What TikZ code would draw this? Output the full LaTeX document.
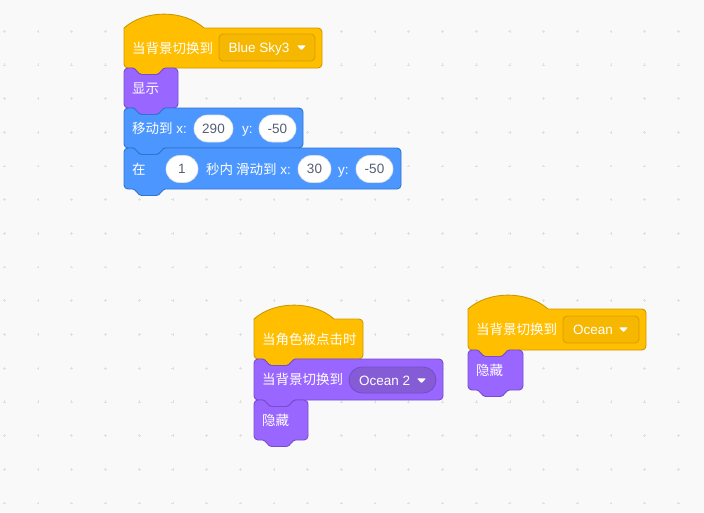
\documentclass[tikz,border=0pt]{standalone}
\usepackage{fontspec}
\setmainfont{Liberation Sans}
\newfontfamily\cjk{Noto Sans CJK SC}
\definecolor{bgc}{HTML}{F9F9F9}
\definecolor{gridc}{HTML}{E0E0E0}
\definecolor{yelF}{HTML}{FFBF00}
\definecolor{yelD}{HTML}{CC9900}
\definecolor{yelDD}{HTML}{F5B700}
\definecolor{yelDB}{HTML}{D9A000}
\definecolor{purF}{HTML}{9966FF}
\definecolor{purD}{HTML}{774DCB}
\definecolor{purDD}{HTML}{855CD6}
\definecolor{bluF}{HTML}{4C97FF}
\definecolor{bluD}{HTML}{3373CC}
\definecolor{numT}{HTML}{575E75}
\newcommand\sblk[5]{%
 \path[#1] (#2,{#3+#5/2}) [rounded corners=4pt] -- (#2,#3) [rounded corners=1.5pt] -- ({#2+10},#3) -- ({#2+16},{#3+6.5}) -- ({#2+34},{#3+6.5}) -- ({#2+40},#3) [rounded corners=4pt] -- ({#2+#4},#3) -- ({#2+#4},{#3+#5}) [rounded corners=1.5pt] -- ({#2+40},{#3+#5}) -- ({#2+34},{#3+#5+6.5}) -- ({#2+16},{#3+#5+6.5}) -- ({#2+10},{#3+#5}) [rounded corners=4pt] -- (#2,{#3+#5}) -- cycle;}
\newcommand\hblk[5]{%
 \path[#1] (#2,{#3+#5/2}) -- (#2,#3) .. controls ({#2+20.8},{#3-18.5}) and ({#2+59.2},{#3-18.5}) .. ({#2+80},#3) [rounded corners=4pt] -- ({#2+#4},#3) -- ({#2+#4},{#3+#5}) [rounded corners=1.5pt] -- ({#2+40},{#3+#5}) -- ({#2+34},{#3+#5+6.5}) -- ({#2+16},{#3+#5+6.5}) -- ({#2+10},{#3+#5}) [rounded corners=4pt] -- (#2,{#3+#5}) -- cycle;}
\newcommand\ddtri[2]{%
 \fill[white, rounded corners=0.8pt] ({#1-9},{#2-2.2}) -- (#1,{#2-2.2}) -- ({#1-4.5},{#2+2.8}) -- cycle;}
\begin{document}
\begin{tikzpicture}[x=1pt,y=-1pt,
  every node/.style={font=\fontsize{13.5pt}{16pt}\selectfont},
  hatY/.style={fill=yelF, draw=yelD, line width=0.9pt},
  purB/.style={fill=purF, draw=purD, line width=0.9pt},
  bluB/.style={fill=bluF, draw=bluD, line width=0.9pt},
  lbl/.style={anchor=base west, inner sep=0pt, text=white},
  num/.style={fill=white, draw=black!12, line width=0.6pt, rounded corners=13.5pt, minimum height=27pt, inner sep=0pt, text=numT},
  ddY/.style={fill=yelDD, draw=yelDB, line width=0.9pt, rounded corners=4pt},
  ddP/.style={fill=purDD, draw=purD, line width=0.9pt, rounded corners=13pt}]
\useasboundingbox (0,0) rectangle (704,512);
\fill[bgc] (0,0) rectangle (704,512);
\foreach \i in {0,...,20}{\foreach \j in {0,...,15}{
  \draw[gridc, line width=0.55pt] ({4.3+33.7*\i-1.4},{-2.6+33.7*\j}) -- ({4.3+33.7*\i+1.4},{-2.6+33.7*\j})
    ({4.3+33.7*\i},{-2.6+33.7*\j-1.4}) -- ({4.3+33.7*\i},{-2.6+33.7*\j+1.4});}}
% stack 1
\hblk{hatY}{124}{28}{198}{40}
\sblk{purB}{124}{68}{54}{40}
\sblk{bluB}{124}{108}{179}{40}
\sblk{bluB}{124}{148}{277}{41}
\node[lbl] (a1) at (132,53) {\cjk 当背景切换到};
\path[ddY] (219,34) rectangle (315,61);
\node[lbl] (a2) at (228.5,52.5) {Blue Sky3};
\ddtri{306}{47.5}
\node[lbl] (a3) at (132,93) {\cjk 显示};
\node[lbl] (a4) at (132,133.5) {{\cjk 移动到} x:};
\node[num, minimum width=39pt] (n1) at (213.5,128.5) {290};
\node[lbl] (a5) at (242,133.5) {y:};
\node[num, minimum width=37pt] (n2) at (277.5,128.5) {-50};
\node[lbl] (a6) at (132,174) {\cjk 在};
\node[num, minimum width=32pt] (n3) at (182,169) {1};
\node[lbl] (a7) at (206,174) {{\cjk 秒内 滑动到} x:};
\node[num, minimum width=33pt] (n4) at (314.5,169) {30};
\node[lbl] (a8) at (338,174) {y:};
\node[num, minimum width=37pt] (n5) at (374.5,169) {-50};
% stack 2
\hblk{hatY}{254}{319}{109}{40}
\sblk{purB}{254}{359}{189}{41}
\sblk{purB}{254}{400}{54}{40}
\node[lbl] (b1) at (262,344) {\cjk 当角色被点击时};
\node[lbl] (b2) at (262,384.5) {\cjk 当背景切换到};
\path[ddP] (349,367) rectangle (436,393);
\node[lbl] (b3) at (359,385) {Ocean 2};
\ddtri{426}{380.5}
\node[lbl] (b4) at (262,425) {\cjk 隐藏};
% stack 3
\hblk{hatY}{468}{309}{178}{41}
\sblk{purB}{468}{350}{55}{40}
\node[lbl] (c1) at (476,334.5) {\cjk 当背景切换到};
\path[ddY] (563,316) rectangle (639,343);
\node[lbl] (c2) at (573,334.5) {Ocean};
\ddtri{628}{329.5}
\node[lbl] (c3) at (476,375) {\cjk 隐藏};
\end{tikzpicture}
\end{document}
